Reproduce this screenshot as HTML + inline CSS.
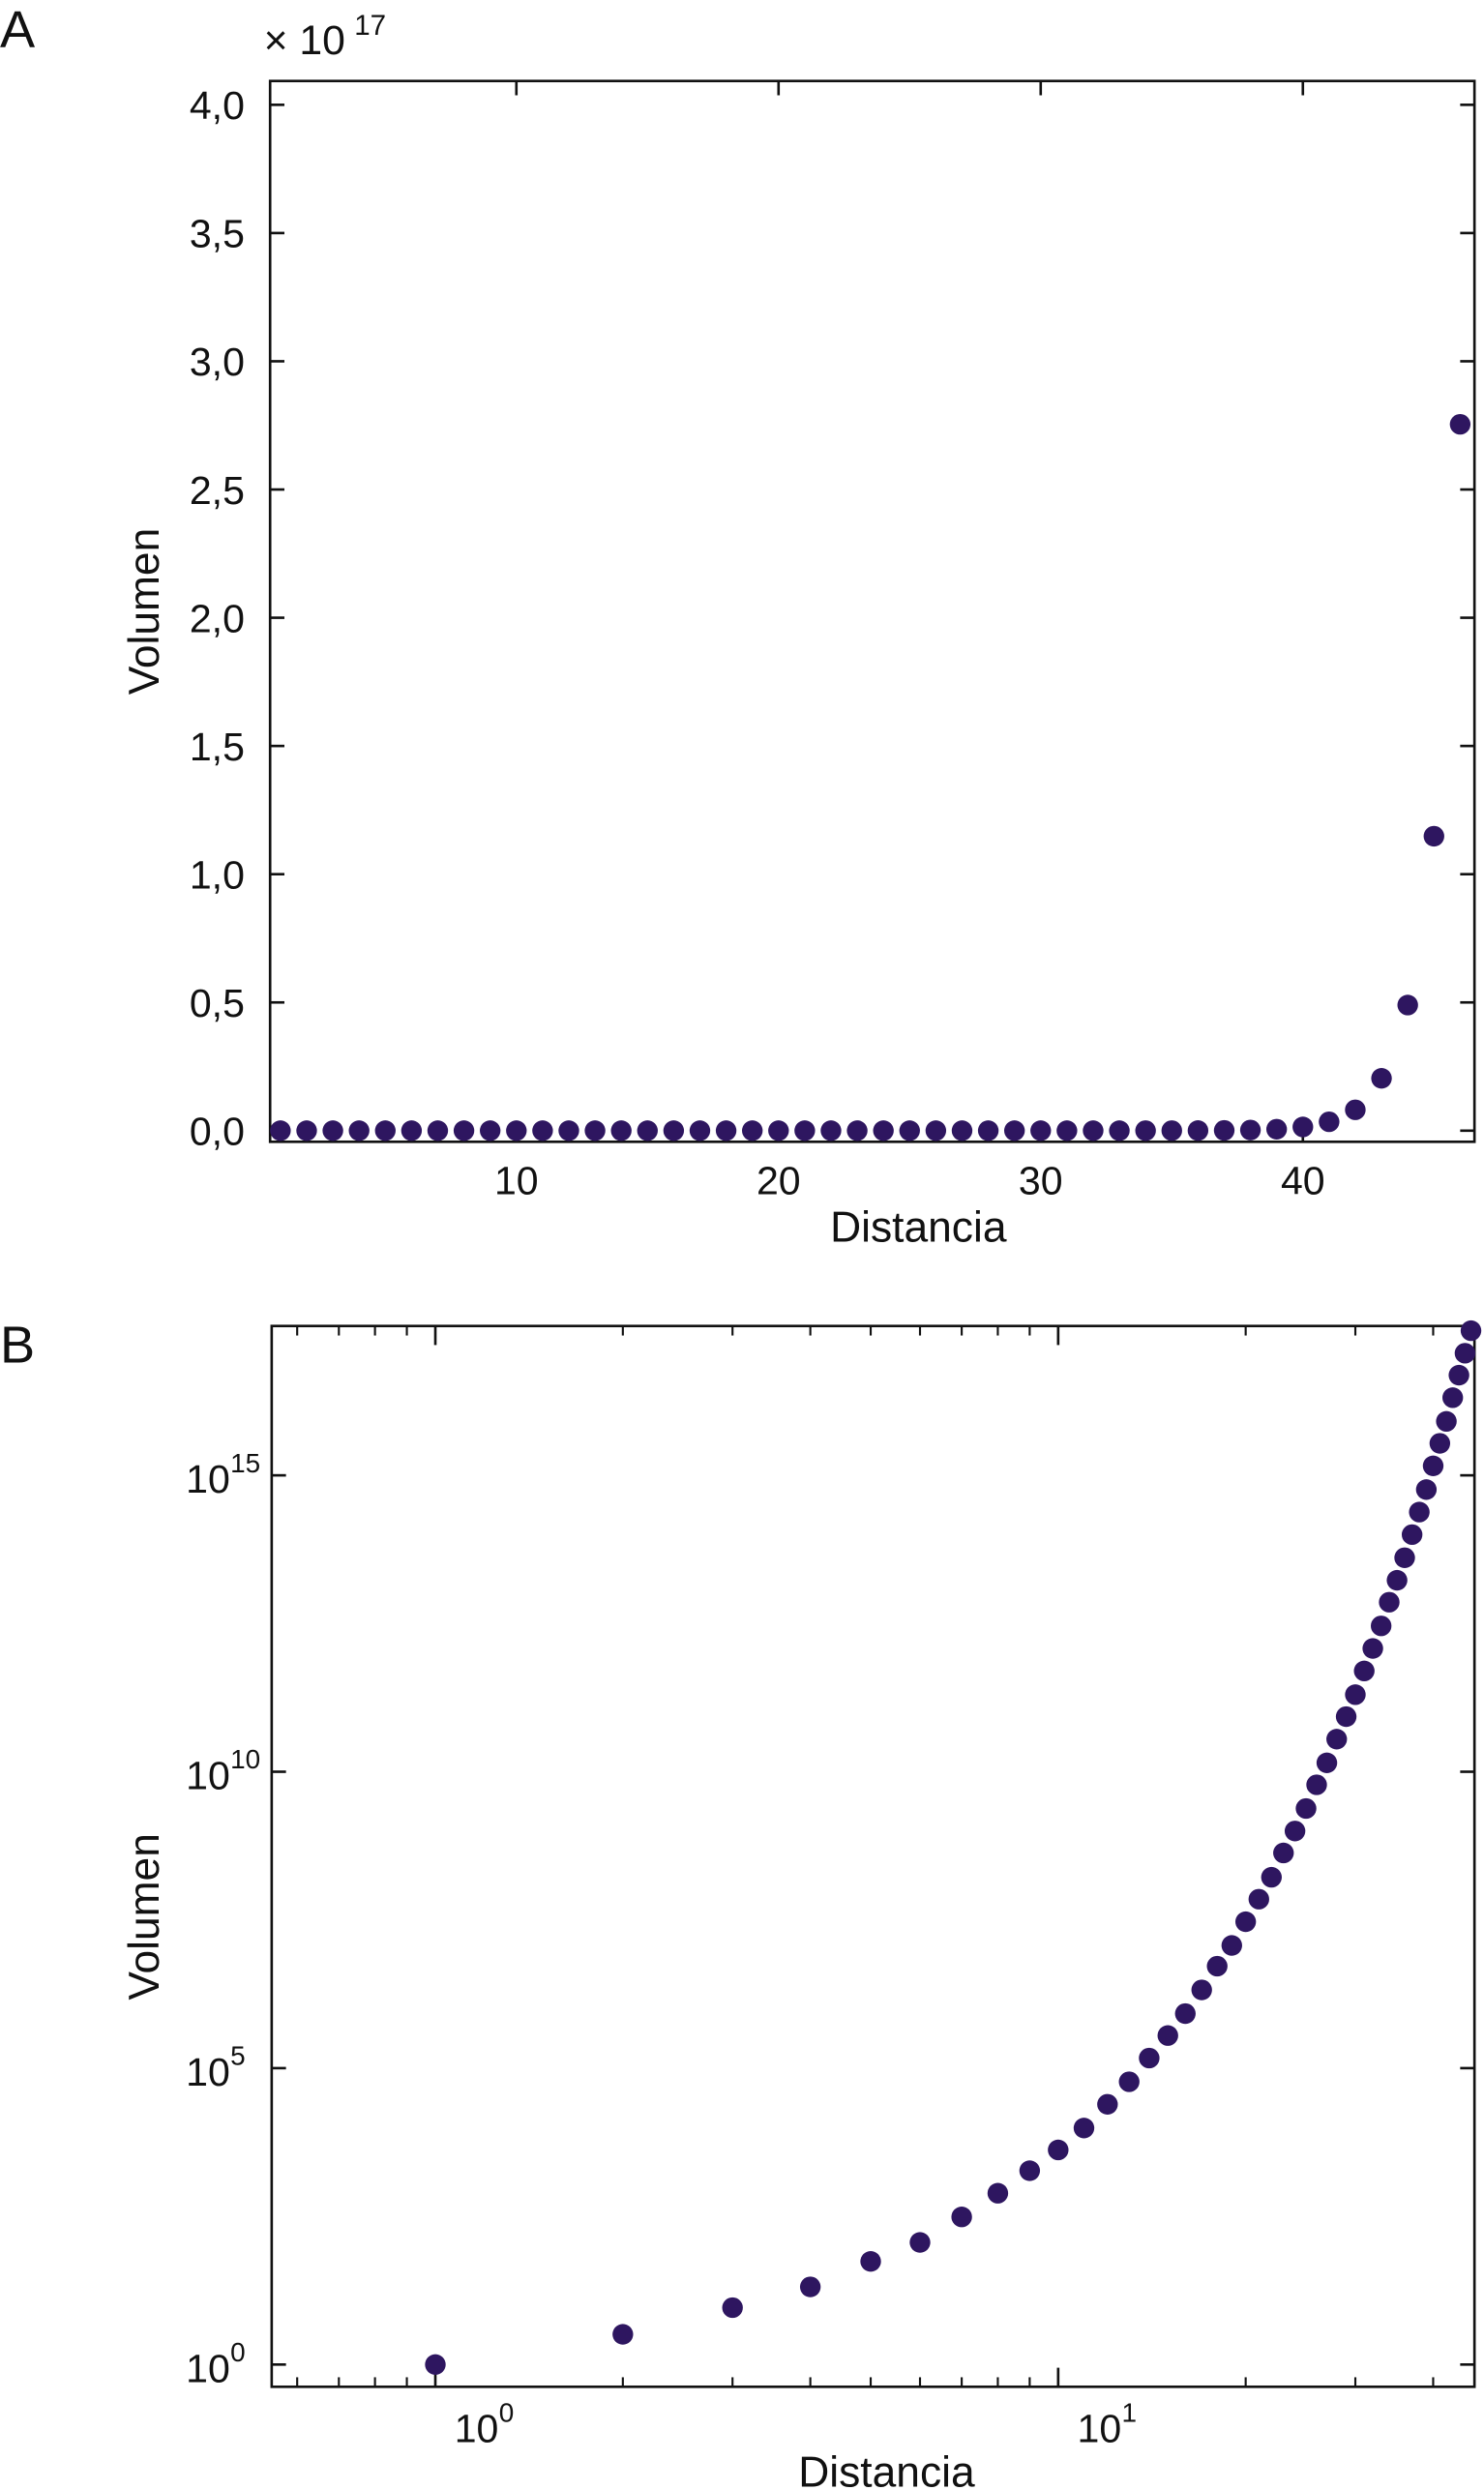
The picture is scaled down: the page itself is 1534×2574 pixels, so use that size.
<!DOCTYPE html>
<html><head><meta charset="utf-8"><style>
html,body{margin:0;padding:0;background:#fff}
svg{display:block}
text{font-family:"Liberation Sans",Arial,sans-serif;fill:#111}
</style></head><body>
<svg id="fig" width="1534" height="2574" viewBox="0 0 934 1568" preserveAspectRatio="none" xmlns="http://www.w3.org/2000/svg">
<text x="0" y="30" font-size="33">A</text>
<text x="0" y="858" font-size="33">B</text>
<g id="pa"></g>
<g id="pb"></g>
</svg>
<script>
const distances = [];for(let i=1;i<=46;i++)distances.push(i);
const logVolume = [0,0.51,0.96,1.31,1.74,2.06,2.49,2.89,3.27,3.62,3.99,4.39,4.77,5.17,5.55,5.92,6.32,6.72,7.07,7.47,7.85,8.22,8.63,9.0,9.38,9.78,10.15,10.55,10.93,11.3,11.7,12.08,12.46,12.86,13.23,13.61,14.0,14.38,14.76,15.16,15.54,15.91,16.31,16.69,17.06,17.44];
const aYTicks = [0,0.5,1,1.5,2,2.5,3,3.5,4];
const aYTickLabels = ["0,0","0,5","1,0","1,5","2,0","2,5","3,0","3,5","4,0"];
const aXTicks = [10,20,30,40];
const bYTicks = [0,5,10,15];
const bXMajor = [1,10];
const bXMinor = [0.5,0.6,0.7,0.8,0.9,2,3,4,5,6,7,8,9,20,30,40];
const NS="http://www.w3.org/2000/svg";
const COLOR="#2e1660";
function mk(parent,tag,attrs,txt){const e=document.createElementNS(NS,tag);for(const k in attrs)e.setAttribute(k,attrs[k]);if(txt!==undefined)e.textContent=txt;parent.appendChild(e);return e;}
// Panel A
const pa=document.getElementById('pa');
const A={l:170,r:928,t:51,b:719};
const axA=x=>176.5+(x-1)*16.5;
const ayA=v=>712-v*161.5;
let fr=mk(pa,'rect',{x:A.l,y:A.t,width:A.r-A.l,height:A.b-A.t,fill:'none',stroke:'#111','stroke-width':1.6});

aYTicks.forEach((v,i)=>{const y=ayA(v);
 mk(pa,'line',{x1:A.l,x2:A.l+9,y1:y,y2:y,stroke:'#111','stroke-width':1.6});
 mk(pa,'line',{x1:A.r-9,x2:A.r,y1:y,y2:y,stroke:'#111','stroke-width':1.6});
 const t=mk(pa,'text',{x:154,y:y+9,'font-size':25,'text-anchor':'end'},aYTickLabels[i]);
 });
aXTicks.forEach(v=>{const x=axA(v);
 mk(pa,'line',{x1:x,x2:x,y1:A.b,y2:A.b-9,stroke:'#111','stroke-width':1.6});
 mk(pa,'line',{x1:x,x2:x,y1:A.t,y2:A.t+9,stroke:'#111','stroke-width':1.6});
 const t=mk(pa,'text',{x:x,y:752,'font-size':25,'text-anchor':'middle'},String(v));
 });
let t1=mk(pa,'text',{x:166,y:34,'font-size':26},'× 10');

mk(pa,'text',{x:223,y:22,'font-size':18},'17');
let ta=mk(pa,'text',{x:578,y:782,'font-size':27,'text-anchor':'middle'},'Distancia');

let tb=mk(pa,'text',{x:0,y:0,'font-size':27,'text-anchor':'middle',transform:'translate(100,385) rotate(-90)'},'Volumen');

distances.forEach((d,i)=>{const c=mk(pa,'circle',{cx:axA(d),cy:ayA(Math.pow(10,logVolume[i])/1e17),r:6.5,fill:COLOR});
 });
// Panel B
const pb=document.getElementById('pb');
const B={l:171,r:928,t:835,b:1503};
const axB=x=>274+Math.log10(x)*392;
const ayB=l=>1489-l*37.33;
let fb=mk(pb,'rect',{x:B.l,y:B.t,width:B.r-B.l,height:B.b-B.t,fill:'none',stroke:'#111','stroke-width':1.6});

bYTicks.forEach(v=>{const y=ayB(v);
 mk(pb,'line',{x1:B.l,x2:B.l+9,y1:y,y2:y,stroke:'#111','stroke-width':1.6});
 mk(pb,'line',{x1:B.r-9,x2:B.r,y1:y,y2:y,stroke:'#111','stroke-width':1.6});
 const t=mk(pb,'text',{x:117,y:y+11,'font-size':25},'10');
 
 mk(pb,'text',{x:145,y:y-2,'font-size':17},String(v));});
bXMajor.forEach((v,i)=>{const x=axB(v);
 mk(pb,'line',{x1:x,x2:x,y1:B.b,y2:B.b-12,stroke:'#111','stroke-width':1.6});
 mk(pb,'line',{x1:x,x2:x,y1:B.t,y2:B.t+12,stroke:'#111','stroke-width':1.6});
 const t=mk(pb,'text',{x:x+12,y:1538,'font-size':25},'10');
 
 mk(pb,'text',{x:x+40,y:1525,'font-size':17},String(i));});
bXMinor.forEach(v=>{const x=axB(v);if(x<B.l)return;
 mk(pb,'line',{x1:x,x2:x,y1:B.b,y2:B.b-6,stroke:'#111','stroke-width':1.3});
 mk(pb,'line',{x1:x,x2:x,y1:B.t,y2:B.t+6,stroke:'#111','stroke-width':1.3});});
let tc=mk(pb,'text',{x:558,y:1566,'font-size':27,'text-anchor':'middle'},'Distancia');

let td=mk(pb,'text',{x:0,y:0,'font-size':27,'text-anchor':'middle',transform:'translate(100,1207) rotate(-90)'},'Volumen');

distances.forEach((d,i)=>{const c=mk(pb,'circle',{cx:axB(d),cy:ayB(logVolume[i]),r:6.5,fill:COLOR});
 });
</script>
</body></html>
